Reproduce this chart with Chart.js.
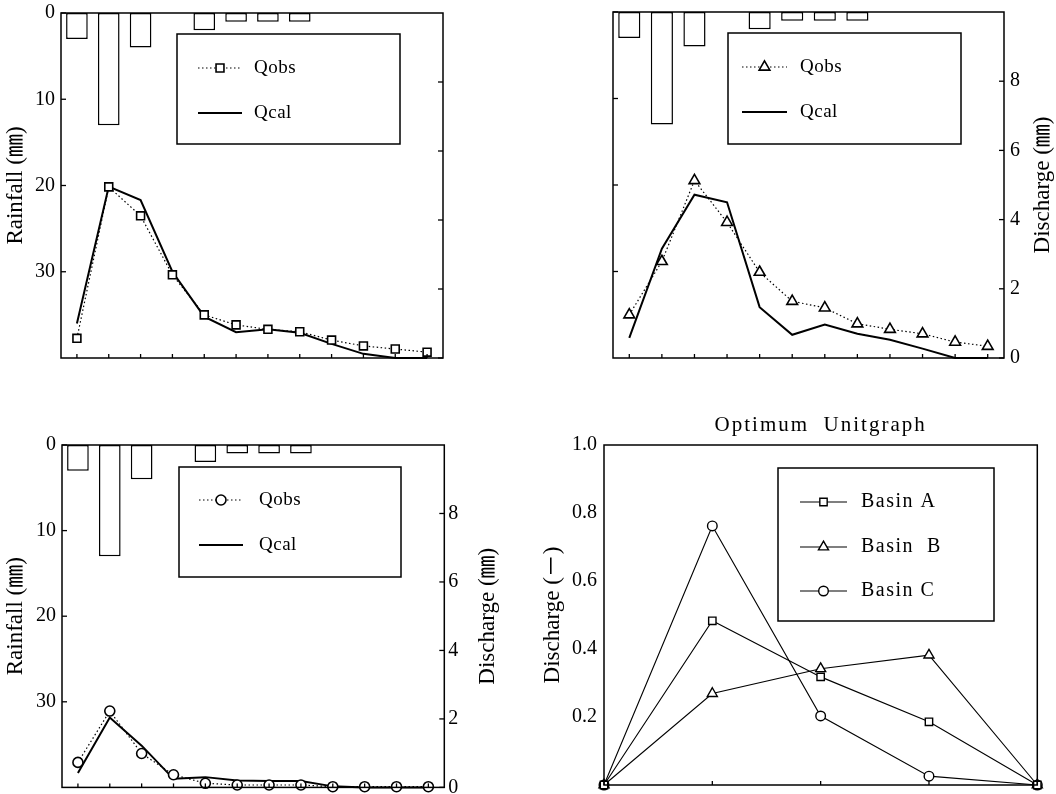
<!DOCTYPE html>
<html><head><meta charset="utf-8">
<script src="https://cdn.jsdelivr.net/npm/chart.js@4.4.1/dist/chart.umd.min.js"></script>
<style>
html,body{margin:0;padding:0;background:#fff;width:1056px;height:794px;overflow:hidden;}
canvas{position:absolute;}
</style></head><body>
<canvas id="c1" width="520" height="395" style="left:0;top:0"></canvas>
<canvas id="c2" width="536" height="395" style="left:520px;top:0"></canvas>
<canvas id="c3" width="520" height="394" style="left:0;top:400px"></canvas>
<canvas id="c4" width="536" height="394" style="left:520px;top:400px"></canvas>
<script>
// ---- data ----
const timeSteps = ['1','2','3','4','5','6','7','8','9','10','11','12'];
const rainfall  = [3, 13, 4, 0, 2, 1, 1, 1, 0, 0, 0, 0];
const rainTicks = [0, 10, 20, 30];
const dischargeTicks = [0, 2, 4, 6, 8];

const qobsA = [0.57, 4.96, 4.12, 2.41, 1.25, 0.96, 0.83, 0.76, 0.52, 0.35, 0.26, 0.17];
const qcalA = [1.00, 4.97, 4.58, 2.50, 1.20, 0.75, 0.83, 0.73, 0.41, 0.12, 0.00, 0.00];

const qobsB = [1.25, 2.79, 5.13, 3.92, 2.48, 1.64, 1.45, 0.99, 0.83, 0.70, 0.46, 0.34];
const qcalB = [0.58, 3.16, 4.72, 4.50, 1.47, 0.67, 0.97, 0.70, 0.53, 0.27, 0.00, 0.00];

const qobsC = [0.73, 2.23, 0.99, 0.37, 0.12, 0.07, 0.07, 0.07, 0.02, 0.02, 0.02, 0.02];
const qcalC = [0.42, 2.04, 1.22, 0.25, 0.30, 0.20, 0.19, 0.19, 0.03, 0.00, 0.00, 0.00];

const unitSteps = ['0','1','2','3','4'];
const basinA = [0, 0.483, 0.318, 0.186, 0];
const basinB = [0, 0.269, 0.342, 0.382, 0];
const basinC = [0, 0.762, 0.203, 0.026, 0];
const unitTicks = [0.2, 0.4, 0.6, 0.8, 1.0];

// ---- style ----
const FONT = "'Liberation Serif', 'Noto Sans CJK JP', serif";
Chart.defaults.color = '#000';
Chart.defaults.font.family = FONT;

function drawMarker(ctx, style, r, x, y) {
  ctx.beginPath();
  if (style === 'rect') {
    const s = r * Math.SQRT1_2; ctx.rect(x - s, y - s, 2 * s, 2 * s);
  } else if (style === 'triangle') {
    let a = 0;
    ctx.moveTo(x + Math.sin(a) * r, y - Math.cos(a) * r);
    a += 2 * Math.PI / 3; ctx.lineTo(x + Math.sin(a) * r, y - Math.cos(a) * r);
    a += 2 * Math.PI / 3; ctx.lineTo(x + Math.sin(a) * r, y - Math.cos(a) * r);
    ctx.closePath();
  } else {
    ctx.arc(x, y, r, 0, Math.PI * 2);
  }
  ctx.fill(); ctx.stroke();
}

function framePlugin() {
  return { id: 'frame', afterDatasetsDraw(chart) {
    const a = chart.chartArea, ctx = chart.ctx;
    ctx.save(); ctx.strokeStyle = '#000'; ctx.lineWidth = 1.5;
    ctx.strokeRect(a.left, a.top, a.right - a.left, a.bottom - a.top);
    ctx.restore();
  }};
}
function innerTicksPlugin(list) {
  return { id: 'innerTicks', afterDatasetsDraw(chart) {
    const a = chart.chartArea, ctx = chart.ctx;
    ctx.save(); ctx.strokeStyle = '#000'; ctx.lineWidth = 1.3;
    list.forEach(([id, len]) => {
      const s = chart.scales[id]; if (!s) return;
      s.ticks.forEach((t, i) => {
        const p = s.getPixelForTick(i);
        ctx.beginPath();
        if (s.position === 'left') { ctx.moveTo(a.left, p); ctx.lineTo(a.left + len, p); }
        else if (s.position === 'right') { ctx.moveTo(a.right, p); ctx.lineTo(a.right - len, p); }
        else { ctx.moveTo(p, a.bottom); ctx.lineTo(p, a.bottom - len); }
        ctx.stroke();
      });
    });
    ctx.restore();
  }};
}
function boxLegendPlugin(cfg) {
  return { id: 'boxLegend', afterDatasetsDraw(chart) {
    const ctx = chart.ctx;
    ctx.save();
    ctx.fillStyle = '#fff'; ctx.fillRect(cfg.box[0], cfg.box[1], cfg.box[2], cfg.box[3]);
    ctx.strokeStyle = '#000'; ctx.lineWidth = 1.5;
    ctx.strokeRect(cfg.box[0], cfg.box[1], cfg.box[2], cfg.box[3]);
    cfg.items.forEach(it => {
      const ds = chart.data.datasets[it.ds];
      ctx.beginPath();
      ctx.setLineDash(ds.borderDash || []);
      ctx.lineWidth = ds.borderWidth;
      ctx.moveTo(cfg.x1, it.y); ctx.lineTo(cfg.x2, it.y); ctx.stroke();
      ctx.setLineDash([]);
      if (ds.pointRadius) {
        ctx.fillStyle = '#fff'; ctx.lineWidth = ds.pointBorderWidth || 1;
        drawMarker(ctx, ds.pointStyle, ds.pointRadius, (cfg.x1 + cfg.x2) / 2, it.y);
      }
      ctx.fillStyle = '#000';
      ctx.font = cfg.font;
      ctx.letterSpacing = cfg.spacing || '0px';
      ctx.textAlign = 'left'; ctx.textBaseline = 'middle';
      ctx.fillText(it.text || ds.label, cfg.textX, it.y);
      ctx.letterSpacing = '0px';
    });
    ctx.restore();
  }};
}
function sideTitlePlugin(cfg) {
  return { id: 'sideTitle', afterDraw(chart) {
    const a = chart.chartArea, ctx = chart.ctx;
    ctx.save();
    ctx.translate(cfg.x, (a.top + a.bottom) / 2);
    ctx.rotate(-Math.PI / 2);
    ctx.font = cfg.font; ctx.fillStyle = '#000';
    ctx.textAlign = 'center'; ctx.textBaseline = 'middle';
    ctx.fillText(cfg.text, 0, 0);
    ctx.restore();
  }};
}
function topTitlePlugin(cfg) {
  return { id: 'topTitle', afterDraw(chart) {
    const a = chart.chartArea, ctx = chart.ctx;
    ctx.save();
    ctx.font = cfg.font; ctx.fillStyle = '#000';
    ctx.letterSpacing = cfg.spacing;
    ctx.textAlign = 'center'; ctx.textBaseline = 'middle';
    ctx.fillText(cfg.text, (a.left + a.right) / 2, cfg.y);
    ctx.letterSpacing = '0px';
    ctx.restore();
  }};
}

function hydroChart(id, o) {
  const plugins = [framePlugin(), innerTicksPlugin([['x', 4], ['y', 5], ['y2', 5]]),
    boxLegendPlugin({ box: o.legendBox, x1: o.lx1, x2: o.lx2, textX: o.ltx,
      font: '19px ' + FONT, spacing: '0.5px',
      items: [{ ds: 0, y: o.ly[0] }, { ds: 1, y: o.ly[1] }] })];
  if (o.rightTitleX) plugins.push(sideTitlePlugin({ text: 'Discharge (㎜)', x: o.rightTitleX, font: '23px ' + FONT }));
  return new Chart(document.getElementById(id), {
    type: 'bar',
    data: { labels: timeSteps, datasets: [
      { type: 'line', label: 'Qobs', data: o.qobs, yAxisID: 'y2', borderColor: '#000', borderWidth: 1.2,
        borderDash: [1.5, 2.5], pointStyle: o.marker, pointRadius: o.r, pointBackgroundColor: '#fff',
        pointBorderColor: '#000', pointBorderWidth: 1.6, tension: 0, clip: false },
      { type: 'line', label: 'Qcal', data: o.qcal, yAxisID: 'y2', borderColor: '#000', borderWidth: 2,
        pointRadius: 0, tension: 0, clip: false },
      { type: 'bar', label: 'Rainfall', data: rainfall, yAxisID: 'y', backgroundColor: '#fff',
        borderColor: '#000', borderWidth: 1.5, borderSkipped: false, barPercentage: 0.68, categoryPercentage: 1 }
    ]},
    options: {
      responsive: false, animation: false, events: [], devicePixelRatio: 1,
      layout: { padding: { top: o.top, left: 0, right: 0, bottom: 0 } },
      plugins: { legend: { display: false }, tooltip: { enabled: false }, title: { display: false } },
      scales: {
        x: { type: 'category', offset: true, grid: { display: false, drawTicks: false }, border: { display: false },
             ticks: { display: false },
             afterFit(s) { s.height = o.xh; s.paddingLeft = 0; s.paddingRight = 0; } },
        y: { position: 'left', reverse: true, min: 0, max: 40,
             grid: { display: false, drawTicks: false }, border: { display: false },
             afterBuildTicks(s) { s.ticks = rainTicks.map(v => ({ value: v })); },
             ticks: { display: o.leftLabels, padding: 6, font: { size: 20 } },
             title: { display: o.leftLabels, text: 'Rainfall (㎜)', font: { size: 23 }, padding: { top: 2, bottom: 0 } },
             afterFit(s) { s.width = o.yw; s.paddingTop = 0; s.paddingBottom = 0; } },
        y2: { position: 'right', min: 0, max: 10,
             grid: { display: false, drawTicks: false }, border: { display: false },
             afterBuildTicks(s) { s.ticks = dischargeTicks.map(v => ({ value: v })); },
             ticks: { display: o.rightLabels, padding: o.rpad, font: { size: 20 } },
             afterFit(s) { s.width = o.y2w; s.paddingTop = 0; s.paddingBottom = 0; } }
      }
    },
    plugins
  });
}

hydroChart('c1', { qobs: qobsA, qcal: qcalA, marker: 'rect', r: 5.6, top: 13, xh: 37, yw: 61, y2w: 77,
  leftLabels: true, rightLabels: false, rpad: 4,
  legendBox: [177, 34, 223, 110], lx1: 198, lx2: 242, ltx: 254, ly: [68, 113] });

hydroChart('c2', { qobs: qobsB, qcal: qcalB, marker: 'triangle', r: 6.2, top: 12, xh: 37, yw: 93, y2w: 52,
  leftLabels: false, rightLabels: true, rpad: 6, rightTitleX: 523,
  legendBox: [208, 33, 233, 111], lx1: 222, lx2: 267, ltx: 280, ly: [67, 112] });

hydroChart('c3', { qobs: qobsC, qcal: qcalC, marker: 'circle', r: 5, top: 45, xh: 4.7, yw: 62, y2w: 75.7,
  leftLabels: true, rightLabels: true, rpad: 4, rightTitleX: 488,
  legendBox: [179, 67, 222, 110], lx1: 199, lx2: 243, ltx: 259, ly: [100, 145] });

// ---- Optimum unitgraph ----
new Chart(document.getElementById('c4'), {
  type: 'line',
  data: { labels: unitSteps, datasets: [
    { label: 'Basin A', data: basinA, borderColor: '#000', borderWidth: 1.1, pointStyle: 'rect', pointRadius: 5.2,
      pointBackgroundColor: '#fff', pointBorderColor: '#000', pointBorderWidth: 1.4, tension: 0, clip: false },
    { label: 'Basin B', data: basinB, borderColor: '#000', borderWidth: 1.1, pointStyle: 'triangle', pointRadius: 5.8,
      pointBackgroundColor: '#fff', pointBorderColor: '#000', pointBorderWidth: 1.4, tension: 0, clip: false },
    { label: 'Basin C', data: basinC, borderColor: '#000', borderWidth: 1.1, pointStyle: 'circle', pointRadius: 4.8,
      pointBackgroundColor: '#fff', pointBorderColor: '#000', pointBorderWidth: 1.4, tension: 0, clip: false }
  ]},
  options: {
    responsive: false, animation: false, events: [], devicePixelRatio: 1,
    layout: { padding: { top: 45, left: 0, right: 18.7, bottom: 0 } },
    plugins: { legend: { display: false }, tooltip: { enabled: false }, title: { display: false } },
    scales: {
      x: { type: 'category', offset: false, grid: { display: false, drawTicks: false }, border: { display: false },
           ticks: { display: false },
           afterFit(s) { s.height = 9; s.paddingLeft = 0; s.paddingRight = 0; } },
      y: { position: 'left', min: 0, max: 1,
           grid: { display: false, drawTicks: false }, border: { display: false },
           afterBuildTicks(s) { s.ticks = unitTicks.map(v => ({ value: v })); },
           ticks: { padding: 7, font: { size: 20 }, callback: v => Number(v).toFixed(1) },
           title: { display: true, text: 'Discharge (－)', font: { size: 23 }, padding: { top: 19, bottom: 0 } },
           afterFit(s) { s.width = 84; s.paddingTop = 0; s.paddingBottom = 0; } }
    }
  },
  plugins: [framePlugin(), innerTicksPlugin([['x', 4]]),
    boxLegendPlugin({ box: [258, 68, 216, 153], x1: 280, x2: 327, textX: 341, font: '20px ' + FONT, spacing: '1.5px',
      items: [{ ds: 0, y: 102 }, { ds: 1, y: 147, text: 'Basin  B' }, { ds: 2, y: 191 }] }),
    topTitlePlugin({ text: 'Optimum  Unitgraph', y: 25, font: '21px ' + FONT, spacing: '2px' })]
});
</script>
</body></html>
